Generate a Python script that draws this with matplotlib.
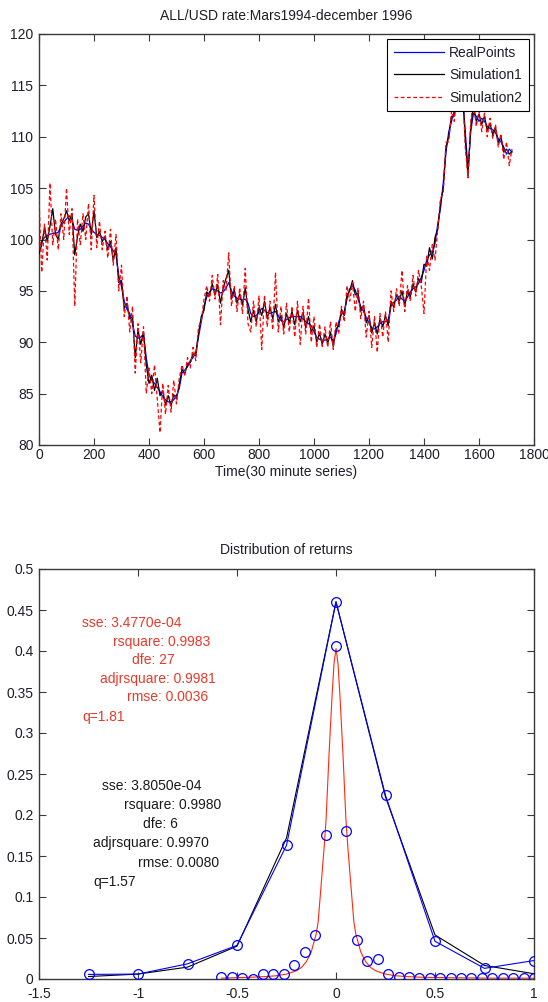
import matplotlib
matplotlib.use("Agg")
import matplotlib.pyplot as plt

plt.rcParams['font.family'] = ['Liberation Sans', 'DejaVu Sans']
plt.rcParams['font.size'] = 10

# ---------------- Top chart data ----------------
time_steps = list(range(0, 1730, 10))

real_points = [
    99.2, 99.8, 100.2, 100.4, 100.5, 100.6, 100.6, 100.7, 101.3, 101.7,
    102.0, 102.3, 101.9, 101.0, 100.9, 101.0, 101.3, 101.6, 101.5, 101.0,
    100.7, 100.5, 100.4, 100.2, 100.0, 99.6, 99.3, 98.9, 98.5, 96.5,
    95.4, 94.0, 93.2, 92.8, 91.8, 90.6, 90.4, 90.5, 90.8, 88.5,
    86.8, 86.3, 86.0, 85.6, 85.2, 84.7, 84.4, 84.2, 84.2, 84.4,
    84.8, 85.5, 87.0, 87.3, 87.6, 88.2, 88.5, 89.0, 90.5, 92.0,
    93.5, 94.4, 94.9, 95.2, 95.1, 95.0, 94.8, 94.9, 95.3, 95.8,
    95.0, 94.5, 94.3, 94.2, 94.1, 94.2, 93.8, 92.8, 92.5, 92.6,
    92.9, 93.3, 93.1, 92.9, 92.8, 92.9, 93.0, 92.6, 92.1, 92.0,
    92.2, 92.4, 92.5, 92.5, 92.5, 92.5, 92.3, 92.0, 91.8, 91.6,
    91.0, 90.5, 90.3, 90.2, 90.2, 90.3, 90.5, 90.1, 90.8, 92.0,
    92.7, 93.0, 94.2, 95.2, 95.5, 95.1, 94.2, 93.5, 93.0, 92.4,
    91.9, 91.4, 91.3, 91.5, 91.8, 92.0, 92.0, 92.2, 93.5, 93.9,
    94.1, 94.5, 94.2, 94.0, 94.4, 94.9, 95.2, 95.4, 95.7, 96.3,
    97.0, 98.0, 98.5, 98.7, 99.6, 101.5, 103.0, 105.5, 108.5, 110.5,
    111.5, 112.5, 113.5, 114.5, 114.0, 110.5, 106.8, 110.5, 112.3, 112.0,
    111.5, 111.8, 111.5, 111.0, 110.8, 110.7, 110.4, 109.8, 109.5, 109.0,
    108.3, 108.8, 108.5,
]

simulation1 = [
    98.6, 99.5, 101.2, 99.8, 101.3, 103.0, 100.5, 100.0, 101.5, 102.0,
    102.8, 101.8, 102.5, 98.5, 100.3, 101.5, 100.8, 102.2, 102.5, 100.5,
    102.8, 100.2, 100.8, 99.8, 100.3, 99.0, 99.8, 98.0, 99.2, 95.8,
    96.0, 93.3, 93.8, 92.3, 92.5, 88.5, 91.2, 89.8, 91.0, 87.8,
    86.0, 86.8, 85.3, 86.5, 84.8, 85.3, 83.9, 84.8, 83.8, 84.9,
    84.5, 85.9, 87.4, 86.9, 87.9, 88.0, 88.9, 88.7, 90.9, 92.5,
    93.1, 94.9, 94.5, 95.7, 94.6, 95.6, 93.8, 95.3, 96.2, 97.0,
    94.2, 95.1, 93.8, 94.7, 93.6, 95.3, 93.2, 92.0, 93.1, 92.0,
    93.4, 92.6, 94.0, 92.3, 93.4, 92.3, 93.7, 92.0, 92.6, 91.4,
    92.8, 91.9, 93.0, 91.7, 93.1, 92.0, 92.9, 91.4, 92.5, 91.0,
    91.6, 90.0, 90.9, 89.8, 90.8, 89.9, 91.0, 89.6, 91.3, 91.6,
    93.2, 92.6, 94.6, 95.0, 96.0, 94.6, 94.8, 93.0, 93.6, 91.9,
    92.6, 90.9, 91.9, 90.8, 92.3, 91.5, 92.6, 91.6, 94.0, 93.4,
    94.6, 94.0, 95.0, 93.5, 95.0, 94.4, 95.7, 94.9, 96.2, 95.8,
    97.6, 97.4, 99.2, 98.1, 100.2, 101.0, 103.6, 105.0, 109.0, 110.0,
    112.0, 112.0, 114.0, 114.0, 114.8, 109.8, 106.2, 111.0, 113.0, 111.5,
    112.2, 111.2, 112.0, 110.6, 111.3, 110.2, 110.9, 109.4, 110.0, 108.5,
    108.8, 108.3, 108.6,
]

simulation2 = [
    104.0, 96.8, 101.5, 98.0, 105.5, 99.5, 102.0, 99.0, 102.5, 100.0,
    105.0, 100.5, 103.0, 93.5, 102.0, 99.5, 102.5, 100.0, 103.5, 99.0,
    104.3, 99.2, 101.8, 99.0, 100.8, 98.2, 101.0, 97.5, 100.5, 95.0,
    97.5, 92.5, 94.5, 91.0, 93.5, 87.0, 91.8, 88.0, 91.5, 85.0,
    87.5, 85.0, 87.8, 84.5, 81.2, 86.0, 83.0, 85.8, 83.2, 86.3,
    84.0, 86.5, 87.8, 86.8, 88.5, 87.5, 89.5, 88.2, 91.5, 92.0,
    94.2, 95.5, 94.0, 96.5, 94.2, 96.6, 91.7, 96.0, 95.0, 98.7,
    93.5, 95.5, 93.0, 95.3, 92.8, 97.2, 91.8, 91.0, 94.0, 91.5,
    94.5, 89.3, 94.6, 91.5, 94.0, 91.2, 96.8, 91.0, 93.5, 90.8,
    93.8, 91.0, 93.5, 90.5, 94.0, 89.8, 93.5, 90.8, 94.3, 90.0,
    92.5, 89.5, 91.8, 89.6, 91.5, 89.5, 92.0, 89.3, 92.0, 90.8,
    93.5, 92.0, 95.5, 94.0, 95.8, 93.0, 95.3, 92.3, 94.0, 90.5,
    93.0, 89.5, 92.5, 89.0, 92.8, 90.5, 93.0, 90.0, 95.0, 93.0,
    95.2, 93.5, 97.0, 93.0, 95.5, 94.0, 96.5, 94.5, 97.0, 95.5,
    92.8, 98.5, 97.0, 99.5, 98.0, 101.0, 104.0, 104.5, 109.5, 109.5,
    112.5, 111.5, 114.5, 113.5, 115.0, 109.0, 106.0, 111.5, 113.5, 111.0,
    112.5, 110.5, 112.3, 110.0, 111.8, 109.8, 111.2, 109.0, 110.3, 107.8,
    109.5, 107.2, 108.8,
]

top_xticks = [0, 200, 400, 600, 800, 1000, 1200, 1400, 1600, 1800]
top_yticks = [80, 85, 90, 95, 100, 105, 110, 115, 120]

# ---------------- Bottom chart data ----------------
bins_wide = [-1.25, -1.0, -0.75, -0.5, -0.25, 0.0, 0.25, 0.5, 0.75, 1.0]
freq_wide = [0.0056, 0.006, 0.0185, 0.041, 0.163, 0.46, 0.224, 0.046, 0.013, 0.0225]
fit_wide = [0.003, 0.006, 0.0145, 0.040, 0.172, 0.46, 0.222, 0.0537, 0.0165, 0.0064]

bins_narrow = [-0.579, -0.526, -0.474, -0.421, -0.368, -0.316, -0.263, -0.211,
               -0.158, -0.105, -0.053, 0.0, 0.053, 0.105, 0.158, 0.211,
               0.263, 0.316, 0.368, 0.421, 0.474, 0.526, 0.579, 0.632,
               0.684, 0.737, 0.789, 0.842, 0.895, 0.947, 1.0]
freq_narrow = [0.003, 0.003, 0.001, 0.0, 0.006, 0.006, 0.006, 0.017,
               0.033, 0.054, 0.176, 0.406, 0.180, 0.048, 0.022, 0.025,
               0.0065, 0.0025, 0.0025, 0.0016, 0.0016, 0.001, 0.001, 0.001,
               0.001, 0.001, 0.001, 0.001, 0.001, 0.001, 0.001]

fit_narrow_x = [-0.579, -0.45, -0.35, -0.3, -0.25, -0.2, -0.175, -0.15, -0.125,
                -0.1, -0.09, -0.075, -0.06, -0.05, -0.035, -0.02, -0.01, 0.0,
                0.01, 0.02, 0.035, 0.05, 0.06, 0.075, 0.09, 0.1, 0.125, 0.15,
                0.175, 0.2, 0.25, 0.3, 0.35, 0.45, 0.6, 0.8, 1.0]
fit_narrow_y = [0.001, 0.002, 0.003, 0.004, 0.006, 0.010, 0.014, 0.021, 0.033,
                0.055, 0.070, 0.115, 0.160, 0.195, 0.275, 0.345, 0.385, 0.403,
                0.385, 0.345, 0.275, 0.195, 0.160, 0.115, 0.070, 0.055, 0.033, 0.021,
                0.014, 0.010, 0.006, 0.004, 0.003, 0.002, 0.0015, 0.001, 0.001]

bottom_xticks = [-1.5, -1, -0.5, 0, 0.5, 1]
bottom_xticklabels = ['-1.5', '-1', '-0.5', '0', '0.5', '1']
bottom_yticks = [0, 0.05, 0.1, 0.15, 0.2, 0.25, 0.3, 0.35, 0.4, 0.45, 0.5]
bottom_yticklabels = ['0', '0.05', '0.1', '0.15', '0.2', '0.25', '0.3', '0.35', '0.4', '0.45', '0.5']

red_fit_text = ['sse: 3.4770e-04', 'rsquare: 0.9983', 'dfe: 27',
                'adjrsquare: 0.9981', 'rmse: 0.0036', 'q=1.81']
black_fit_text = ['sse: 3.8050e-04', 'rsquare: 0.9980', 'dfe: 6',
                  'adjrsquare: 0.9970', 'rmse: 0.0080', 'q=1.57']

# ---------------- Figure ----------------
W, H = 548, 1002
fig = plt.figure(figsize=(W / 100, H / 100), dpi=100)
fig.patch.set_facecolor('white')

TXT = '#1e1e28'
SPINE = '#3a3a3a'


def style_axes(ax, xpad):
    for s in ax.spines.values():
        s.set_color(SPINE)
        s.set_linewidth(1.0)
    ax.tick_params(direction='in', length=5, width=0.8, color=SPINE,
                   top=True, right=True, labelcolor=TXT, labelsize=10)
    ax.tick_params(axis='x', pad=xpad)
    ax.tick_params(axis='y', pad=4)


# Top axes
ax1 = fig.add_axes([39 / W, 1 - 445 / H, 495 / W, 411 / H])
style_axes(ax1, 2)
ax1.plot(time_steps, real_points, color='#0000ff', lw=0.9, label='RealPoints', zorder=2)
ax1.plot(time_steps, simulation1, color='black', lw=0.9, label='Simulation1', zorder=3)
ax1.plot(time_steps, simulation2, color='#ff0000', lw=0.9, ls=(0, (3, 2)),
         label='Simulation2', zorder=4)
ax1.set_xlim(0, 1800)
ax1.set_ylim(80, 120)
ax1.set_xticks(top_xticks)
ax1.set_yticks(top_yticks)
ax1.set_xlabel('Time(30 minute series)', color=TXT, fontsize=10, labelpad=2)
leg = ax1.legend(loc='upper right', bbox_to_anchor=(0.99, 0.988), fancybox=False,
                 edgecolor='black', framealpha=1, fontsize=10, handlelength=3.6,
                 handletextpad=0.4, labelspacing=0.6, borderpad=0.5,
                 borderaxespad=0)
leg.get_frame().set_linewidth(0.8)
leg.set_zorder(10)
for t in leg.get_texts():
    t.set_color(TXT)
fig.text((39 + 534) / 2 / W, 1 - 16 / H, 'ALL/USD rate:Mars1994-december 1996',
         ha='center', va='center', fontsize=10, color=TXT)

# Bottom axes
ax2 = fig.add_axes([39 / W, 1 - 979 / H, 495 / W, 410 / H])
style_axes(ax2, 6)
ax2.plot(bins_wide, fit_wide, color='black', lw=0.8, zorder=2)
ax2.plot(bins_wide, freq_wide, color='#0000ff', lw=0.8, marker='o', ms=7,
         mfc='none', mec='#0000ff', mew=0.9, zorder=3)
ax2.plot(fit_narrow_x, fit_narrow_y, color='#ff2a10', lw=0.8, zorder=2)
ax2.plot(bins_narrow, freq_narrow, ls='none', marker='o', ms=7,
         mfc='none', mec='#0000ff', mew=0.9, zorder=3)
ax2.set_xlim(-1.5, 1)
ax2.set_ylim(0, 0.5)
ax2.set_xticks(bottom_xticks)
ax2.set_xticklabels(bottom_xticklabels)
ax2.set_yticks(bottom_yticks)
ax2.set_yticklabels(bottom_yticklabels)
fig.text((39 + 534) / 2 / W, 1 - 550 / H, 'Distribution of returns',
         ha='center', va='center', fontsize=10, color=TXT)

red_pos = [(82, 623), (113, 642), (132, 660), (100, 679), (127, 697), (82, 717)]
black_pos = [(102, 786), (124, 805), (143, 824), (93, 843), (138, 863), (93, 882)]
for s, (px, py) in zip(red_fit_text, red_pos):
    ax2.text((px - 39) / 495, (979 - py) / 410, s, transform=ax2.transAxes,
             ha='left', va='center', fontsize=10, color='#e8392b')
for s, (px, py) in zip(black_fit_text, black_pos):
    ax2.text((px - 39) / 495, (979 - py) / 410, s, transform=ax2.transAxes,
             ha='left', va='center', fontsize=10, color='#1a1a1a')

fig.savefig('out.png', dpi=100, facecolor='white')
